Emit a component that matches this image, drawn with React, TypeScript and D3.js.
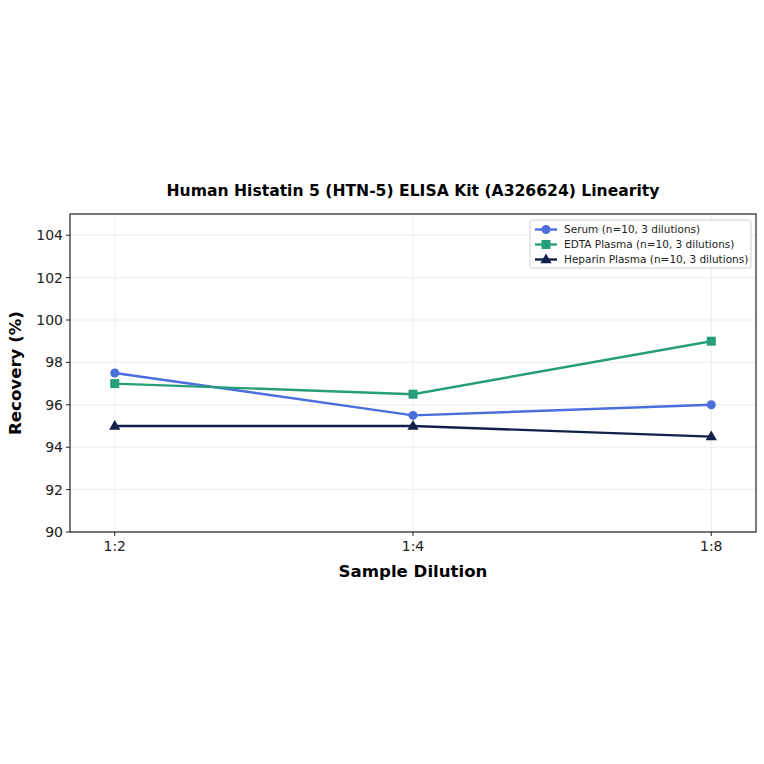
import React from 'react';
import * as d3 from 'd3';

const dilutions = ['1:2', '1:4', '1:8'];
const serum = [97.5, 95.5, 96.0];
const edta = [97.0, 96.5, 99.0];
const heparin = [95.0, 95.0, 94.5];
const yTicks = [90, 92, 94, 96, 98, 100, 102, 104];

const seriesNames = ['Serum (n=10, 3 dilutions)', 'EDTA Plasma (n=10, 3 dilutions)', 'Heparin Plasma (n=10, 3 dilutions)'];
const seriesColors = ['#4a6fdc', '#269e7a', '#13214a'];
const seriesShapes = ['circle', 'square', 'triangle'];

const W = 764, H = 764;
const left = 70, right = 756, top = 214, bottom = 532;
const font = 'DejaVu Sans, sans-serif';

const Marker = ({ shape, x, y, color }: { shape: string; x: number; y: number; color: string }) => {
  if (shape === 'circle') return <circle cx={x} cy={y} r={4.5} fill={color} />;
  if (shape === 'square') return <rect x={x - 4.5} y={y - 4.5} width={9} height={9} fill={color} />;
  const sym = d3.symbol().type(d3.symbolTriangle).size(55)();
  return <path d={sym as string} transform={`translate(${x},${y + 0.5})`} fill={color} />;
};

export default function App() {
  const x = d3.scaleLinear().domain([-0.15, 2.15]).range([left, right]);
  const y = d3.scaleLinear().domain([90, 105]).range([bottom, top]);
  const data = [serum, edta, heparin];
  const line = d3.line<number>().x((_, i) => x(i)).y(d => y(d));

  return (
    <svg width={W} height={H} style={{ position: 'absolute', left: 0, top: 0 }} fontFamily={font}>
      <rect width={W} height={H} fill="white" />
      {/* grid */}
      {yTicks.map(t => (
        <line key={'gy' + t} x1={left} x2={right} y1={y(t)} y2={y(t)} stroke="#e6e6e6" strokeWidth={0.8} />
      ))}
      {dilutions.map((d, i) => (
        <line key={'gx' + d} x1={x(i)} x2={x(i)} y1={top} y2={bottom} stroke="#e6e6e6" strokeWidth={0.8} />
      ))}
      {/* series */}
      {data.map((vals, s) => (
        <g key={s}>
          <path d={line(vals) as string} fill="none" stroke={seriesColors[s]} strokeWidth={2.4} />
          {vals.map((v, i) => (
            <Marker key={i} shape={seriesShapes[s]} x={x(i)} y={y(v)} color={seriesColors[s]} />
          ))}
        </g>
      ))}
      {/* frame */}
      <rect x={left} y={top} width={right - left} height={bottom - top} fill="none" stroke="#222" strokeWidth={1.2} />
      {/* y ticks */}
      {yTicks.map(t => (
        <g key={'ty' + t}>
          <line x1={left - 4} x2={left} y1={y(t)} y2={y(t)} stroke="#222" />
          <text x={left - 7} y={y(t)} dy="0.35em" textAnchor="end" fontSize={14} fill="#222">{t}</text>
        </g>
      ))}
      {dilutions.map((d, i) => (
        <g key={'tx' + d}>
          <line x1={x(i)} x2={x(i)} y1={bottom} y2={bottom + 4} stroke="#222" />
          <text x={x(i)} y={bottom + 19} textAnchor="middle" fontSize={14} fill="#222">{d}</text>
        </g>
      ))}
      {/* labels */}
      <text x={(left + right) / 2} y={196} textAnchor="middle" fontSize={15.6} fontWeight="bold">
        Human Histatin 5 (HTN-5) ELISA Kit (A326624) Linearity
      </text>
      <text x={(left + right) / 2} y={577} textAnchor="middle" fontSize={16.6} fontWeight="bold">Sample Dilution</text>
      <text transform={`translate(21,${(top + bottom) / 2}) rotate(-90)`} textAnchor="middle" fontSize={16.6} fontWeight="bold">Recovery (%)</text>
      {/* legend */}
      <g>
        <rect x={530} y={220} width={221} height={48} rx={2} fill="white" fillOpacity={0.85} stroke="#d0d0d0" />
        {seriesNames.map((n, s) => {
          const ly = 229.5 + s * 15;
          return (
            <g key={n}>
              <line x1={535} x2={557} y1={ly} y2={ly} stroke={seriesColors[s]} strokeWidth={2.4} />
              <Marker shape={seriesShapes[s]} x={546} y={ly} color={seriesColors[s]} />
              <text x={564} y={ly} dy="0.35em" fontSize={10.5} fill="#222">{n}</text>
            </g>
          );
        })}
      </g>
    </svg>
  );
}
